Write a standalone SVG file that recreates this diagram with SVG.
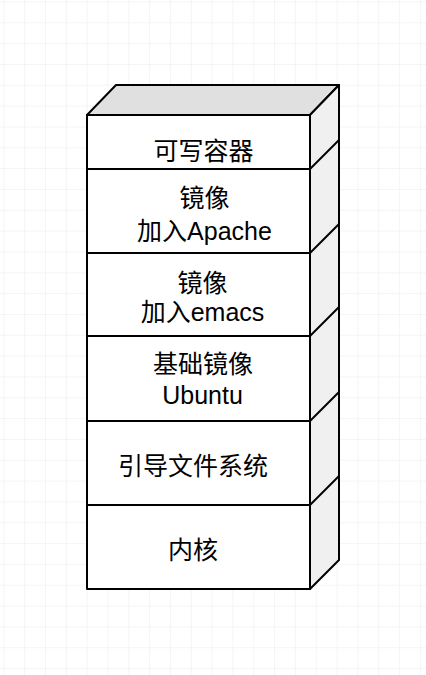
<svg xmlns="http://www.w3.org/2000/svg" width="426" height="675" viewBox="0 0 426 675">
  <defs>
    <pattern id="grid" x="3.3" y="1.5" width="20.83" height="20.83" patternUnits="userSpaceOnUse">
      <path d="M0,0 H20.83 M0,0 V20.83" fill="none" stroke="#ececec" stroke-width="1"/>
    </pattern>
  </defs>
  <style>
    .edge { stroke: #000; stroke-width: 2; stroke-linejoin: round; }
    .front { fill: #fff; }
    .top { fill: #e0e0e0; }
    .side { fill: #f0f0f0; }
    .lbl { font-family: "Liberation Sans", "Noto Sans CJK SC", sans-serif; font-size: 25px; fill: #000; text-anchor: middle; }
  </style>
  <rect width="426" height="675" fill="#fff"/>
  <rect width="426" height="675" fill="url(#grid)"/>

  <g id="cube-shell">
    <polygon class="top edge" points="87,115 116,85 339,85 310,115"/>
    <polygon class="side edge" points="310,115 339,85 339,560 310,589"/>
  </g>

  <g id="layer-writable">
    <rect class="front edge" x="87" y="115" width="223" height="54"/>
    <text class="lbl" x="203.5" y="160">可写容器</text>
  </g>
  <g id="layer-apache">
    <rect class="front edge" x="87" y="169" width="223" height="84"/>
    <text class="lbl" x="204.5" y="207">镜像</text>
    <text class="lbl" x="204.5" y="239.5">加入Apache</text>
  </g>
  <g id="layer-emacs">
    <rect class="front edge" x="87" y="253" width="223" height="83"/>
    <text class="lbl" x="202.5" y="291.5">镜像</text>
    <text class="lbl" x="202.5" y="320.5">加入emacs</text>
  </g>
  <g id="layer-ubuntu">
    <rect class="front edge" x="87" y="336" width="223" height="85"/>
    <text class="lbl" x="203" y="372.5">基础镜像</text>
    <text class="lbl" x="202.5" y="404">Ubuntu</text>
  </g>
  <g id="layer-bootfs">
    <rect class="front edge" x="87" y="421" width="223" height="84"/>
    <text class="lbl" x="193" y="475">引导文件系统</text>
  </g>
  <g id="layer-kernel">
    <rect class="front edge" x="87" y="505" width="223" height="84"/>
    <text class="lbl" x="193" y="559">内核</text>
  </g>

  <g id="connectors">
    <line class="edge" x1="310" y1="169" x2="339" y2="140"/>
    <line class="edge" x1="310" y1="253" x2="339" y2="224"/>
    <line class="edge" x1="310" y1="336" x2="339" y2="307"/>
    <line class="edge" x1="310" y1="421" x2="339" y2="392"/>
    <line class="edge" x1="310" y1="505" x2="339" y2="476"/>
  </g>
</svg>
